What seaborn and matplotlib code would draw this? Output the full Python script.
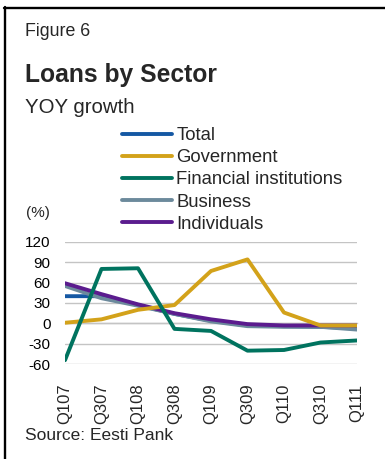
import matplotlib
matplotlib.use("Agg")
import matplotlib.pyplot as plt
from matplotlib.lines import Line2D
import seaborn as sns
import pandas as pd

# Quarter labels and year-on-year loan growth by sector (%)
quarters = ["Q107", "Q307", "Q108", "Q308", "Q109", "Q309", "Q110", "Q310", "Q111"]
total = [40, 40, 27, 14, 4, -3, -4, -5, -7]
government = [1, 6, 20, 27, 77, 94, 16, -3, -3]
financial = [-54, 80, 81, -8, -11, -40, -39, -28, -25]
business = [55, 37, 26, 14, 3, -4, -5, -5, -9]
individuals = [59, 43, 28, 15, 6, -1, -3, -3, -3]

series_names = ["Total", "Government", "Financial institutions", "Business", "Individuals"]
series_values = [total, government, financial, business, individuals]
colors = ["#1558A3", "#D3A21A", "#00735F", "#6C8A9C", "#5B1C8E"]
zorders = [2, 5, 6, 3, 4]
y_ticks = [-60, -30, 0, 30, 60, 90, 120]
y_labels = ["-60", "-30", "0", "30", "60", "90", "120"]

sns.set_style("white")
plt.rcParams["font.family"] = ["Liberation Sans", "DejaVu Sans"]

W, H = 385, 459
fig = plt.figure(figsize=(W / 100, H / 100), dpi=100)
ax = fig.add_axes([65 / W, 1 - 364.3 / H, (357 - 65) / W, (364.3 - 241.7) / H])

rows = []
for name, vals in zip(series_names, series_values):
    for i, v in enumerate(vals):
        rows.append({"pos": i, "growth": v, "sector": name})
df = pd.DataFrame(rows)

handles = []
for name, color, z in zip(series_names, colors, zorders):
    sub = df[df["sector"] == name]
    sns.lineplot(data=sub, x="pos", y="growth", ax=ax, color=color,
                 linewidth=2.8, zorder=z, legend=False, sort=False)
    handles.append(Line2D([], [], color=color, linewidth=2.8))

ax.set_xlim(0, len(quarters) - 1)
ax.set_ylim(-60, 120)
ax.set_xlabel("")
ax.set_ylabel("")

grid_c = "#C4C4C4"
ax.set_yticks(y_ticks)
ax.set_yticklabels(y_labels)
ax.yaxis.grid(True, color=grid_c, linewidth=1.0, zorder=0)
ax.xaxis.grid(False)
ax.set_axisbelow(True)
ax.tick_params(axis="y", length=0, pad=10.5, labelsize=11, labelcolor="black")

for s in ["left", "right", "top"]:
    ax.spines[s].set_visible(False)
# category axis line sits on the zero gridline with small ticks
ax.spines["bottom"].set_position(("data", 0))
ax.spines["bottom"].set_color(grid_c)
ax.spines["bottom"].set_linewidth(1.0)
ax.set_xticks(range(len(quarters)))
ax.tick_params(axis="x", direction="out", length=4, width=1.0, color=grid_c,
               labelbottom=False)

# quarter labels along the bottom of the plot area
sec = ax.secondary_xaxis(0.0)
sec.set_xticks(range(len(quarters)))
sec.set_xticklabels(quarters, rotation=90)
sec.tick_params(length=0, pad=14, labelsize=12)
sec.spines["bottom"].set_visible(False)

fig.text(50 / W, 1 - 213.5 / H, "(%)", ha="right", va="center", fontsize=11)

fig.text(25 / W, 1 - 36 / H, "Figure 6", ha="left", va="baseline", fontsize=12.8)
fig.text(25 / W, 1 - 82 / H, "Loans by Sector", ha="left", va="baseline",
         fontsize=17.7, fontweight="bold")
fig.text(25 / W, 1 - 113 / H, "YOY growth", ha="left", va="baseline", fontsize=14.7)
fig.text(25 / W, 1 - 440 / H, "Source: Eesti Pank", ha="left", va="baseline",
         fontsize=12.5)

fig.legend(handles, series_names, loc="upper left",
           bbox_to_anchor=(122 / W, 1 - 127 / H), frameon=False,
           fontsize=13.3, handlelength=2.7, handletextpad=0.25,
           labelspacing=0.28, borderpad=0, borderaxespad=0)

# box edges along the top and left of the figure panel
fig.add_artist(Line2D([4 / W, 1], [1 - 8 / H, 1 - 8 / H], color="black",
                      linewidth=1.7, transform=fig.transFigure))
fig.add_artist(Line2D([5 / W, 5 / W], [1 - 7 / H, 0], color="black",
                      linewidth=1.7, transform=fig.transFigure))

fig.savefig("out.png", dpi=100)
